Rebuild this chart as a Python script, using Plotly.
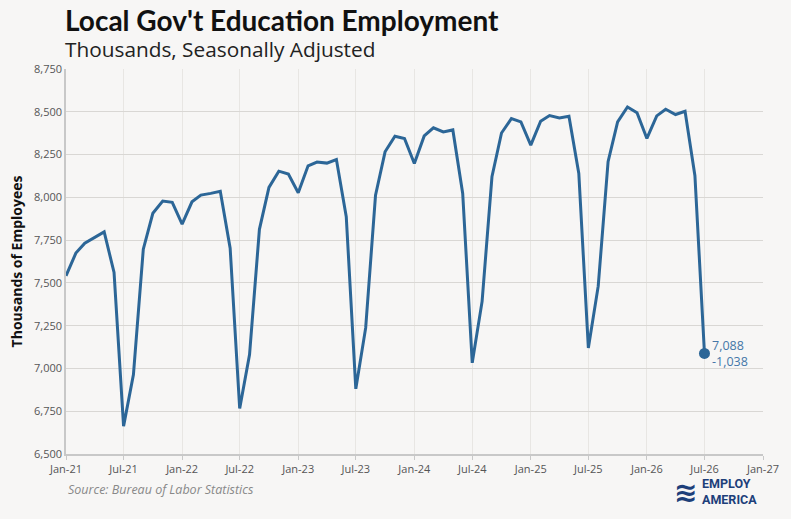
import plotly.graph_objects as go
import pandas as pd

months = pd.date_range("2021-01-01", "2026-07-01", freq="MS")
values = [
    7541, 7674, 7732, 7765, 7798, 7561, 6663, 6964, 7697, 7907, 7978, 7971,
    7844, 7974, 8013, 8023, 8035, 7703, 6766, 7081, 7813, 8058, 8153, 8136,
    8027, 8184, 8206, 8200, 8221, 7887, 6881, 7237, 8013, 8266, 8357, 8344,
    8198, 8359, 8406, 8382, 8394, 8023, 7033, 7392, 8120, 8376, 8460, 8441,
    8305, 8445, 8478, 8464, 8474, 8140, 7120, 7481, 8208, 8441, 8528, 8494,
    8344, 8476, 8515, 8484, 8503, 8126, 7088,
]
last_change = values[-1] - values[-2]

tick_dates = pd.date_range("2021-01-01", "2027-01-01", freq="6MS")
tick_labels = [d.strftime("%b-%y") for d in tick_dates]
y_ticks = list(range(6500, 8751, 250))

LINE = "#2c6697"
BG = "#f7f6f5"
FONT = "Open Sans"

fig = go.Figure()
fig.add_trace(go.Scatter(
    x=months, y=values, mode="lines",
    line=dict(color=LINE, width=3), hoverinfo="skip", showlegend=False,
))
fig.add_trace(go.Scatter(
    x=[months[-1]], y=[values[-1]], mode="markers",
    marker=dict(color=LINE, size=11), showlegend=False, hoverinfo="skip",
))
fig.add_annotation(
    x=months[-1], y=values[-1], xref="x", yref="y",
    text=f"{values[-1]:,}<br>{last_change:,}", showarrow=False,
    xanchor="left", yanchor="middle", xshift=6, align="left",
    font=dict(family=FONT, size=12.5, color="#4577a8"),
)

fig.update_layout(
    width=791, height=519,
    paper_bgcolor=BG, plot_bgcolor=BG,
    margin=dict(l=66, r=26, t=69, b=65),
    font=dict(family=FONT, color="#555555"),
    xaxis=dict(
        range=[tick_dates[0], tick_dates[-1]],
        tickvals=list(tick_dates), ticktext=tick_labels,
        showgrid=True, gridcolor="#e8e6e3", gridwidth=1,
        showline=True, linecolor="#c8c8c8", linewidth=1.5,
        ticks="outside", ticklen=4, tickcolor="#c8c8c8",
        tickfont=dict(size=11, color="#555555", family=FONT),
        zeroline=False,
    ),
    yaxis=dict(
        range=[6500, 8750], tickvals=y_ticks, tickformat=",",
        showgrid=True, gridcolor="#d9d7d4", gridwidth=1,
        showline=True, linecolor="#c8c8c8", linewidth=1.5,
        tickfont=dict(size=11, color="#555555", family=FONT),
        ticks="", zeroline=False,
        title=dict(text="<b>Thousands of Employees</b>", standoff=8,
                   font=dict(size=14, color="#111111", family=FONT)),
    ),
)

fig.add_annotation(
    xref="paper", yref="paper", x=0, y=1, xshift=-3, yshift=30,
    xanchor="left", yanchor="bottom", showarrow=False,
    text="<b>Local Gov't Education Employment</b>",
    font=dict(family="Lato", size=28, color="#111111"),
)
fig.add_annotation(
    xref="paper", yref="paper", x=0, y=1, xshift=-3, yshift=4,
    xanchor="left", yanchor="bottom", showarrow=False,
    text="Thousands, Seasonally Adjusted",
    font=dict(family=FONT, size=20.8, color="#222222"),
)
fig.add_annotation(
    xref="paper", yref="paper", x=0, y=0, yshift=-46,
    xanchor="left", yanchor="bottom", showarrow=False,
    text="<i>Source: Bureau of Labor Statistics</i>",
    font=dict(family=FONT, size=12.5, color="#888888"),
)
fig.add_annotation(
    xref="paper", yref="paper", x=1, y=0, xshift=-4, yshift=-55,
    xanchor="right", yanchor="bottom", showarrow=False, align="left",
    text="<b>EMPLOY<br>AMERICA</b>",
    font=dict(family="Roboto", size=12.5, color="#1d3f7a"),
)
fig.add_annotation(
    xref="paper", yref="paper", x=1, y=0, xshift=-64, yshift=-57,
    xanchor="right", yanchor="bottom", showarrow=False,
    text="<b>≋</b>",
    font=dict(family="DejaVu Sans", size=28, color="#1d3f7a"),
)

fig.write_html(
    "out.html",
    config={"displayModeBar": False},
    post_script="document.body.style.margin='0px';document.body.style.background='#f7f6f5';",
)
